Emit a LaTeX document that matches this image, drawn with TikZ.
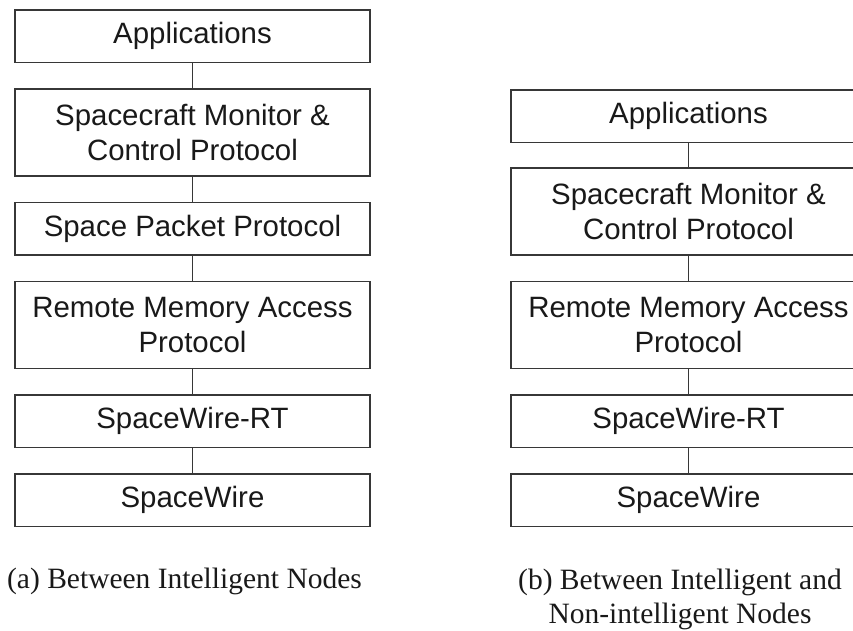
\documentclass[tikz,border=0pt]{standalone}
\usepackage{fontspec}
\setmainfont{Liberation Serif}
\newfontfamily\layerfont{Liberation Sans}
\usetikzlibrary{positioning}
\definecolor{ink}{RGB}{25,25,25}
\definecolor{rule}{RGB}{55,55,55}
\tikzset{
  every picture/.style={x=1pt, y=-1pt, line width=1.5pt, color=rule},
  node distance=25pt,
  layer/.style={draw=rule, fill=white, text=ink, minimum width=355pt, minimum height=52.5pt, inner sep=0pt, align=center, font=\fontsize{29.4}{35}\selectfont\layerfont},
  tall/.style={layer, minimum height=87pt},
  link/.style={line width=1.2pt, color=rule},
  caption/.style={text=ink, align=center, inner sep=0pt, font=\fontsize{29.5}{34.5}\selectfont},
}

\begin{document}
\begin{tikzpicture}
  \useasboundingbox (0,0) rectangle (853,630);
  \node[layer] (apps) at (192.5,36) {Applications};
  \node[tall, below=of apps] (smcp) {Spacecraft Monitor \&\\Control Protocol};
  \node[layer, below=of smcp] (spp) {Space Packet Protocol};
  \node[tall, below=of spp] (rmap) {Remote Memory Access\\Protocol};
  \node[layer, below=of rmap] (swrt) {SpaceWire-RT};
  \node[layer, below=of swrt] (sw) {SpaceWire};
  \node[tall, right=139.5pt of rmap] (rmapB) {Remote Memory Access\\Protocol};
  \node[tall, above=of rmapB] (smcpB) {Spacecraft Monitor \&\\Control Protocol};
  \node[layer, above=24pt of smcpB] (appsB) {Applications};
  \node[layer, below=of rmapB] (swrtB) {SpaceWire-RT};
  \node[layer, below=of swrtB] (swB) {SpaceWire};
  \foreach \u/\l in {apps/smcp, smcp/spp, spp/rmap, rmap/swrt, swrt/sw, appsB/smcpB, smcpB/rmapB, rmapB/swrtB, swrtB/swB}
    \draw[link] (\u) -- (\l);
  \node[caption, anchor=base] (capA) at (184.5,588) {(a) Between Intelligent Nodes};
  \node[caption, anchor=north] (capB) at (680,568) {(b) Between Intelligent and\\Non-intelligent Nodes};
\end{tikzpicture}
\end{document}
